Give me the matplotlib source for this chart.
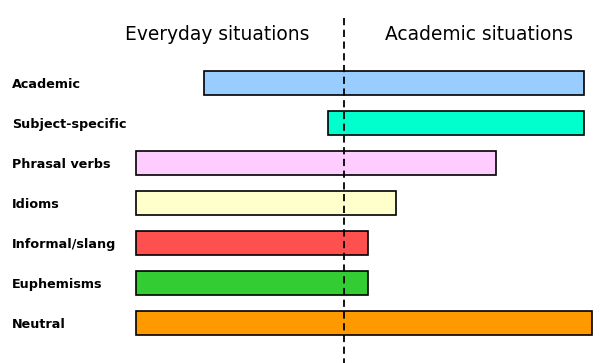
import matplotlib
matplotlib.use("Agg")
import matplotlib.pyplot as plt

categories = ["Academic", "Subject-specific", "Phrasal verbs", "Idioms",
              "Informal/slang", "Euphemisms", "Neutral"]
# span on an everyday (<0) ... academic (>0) scale, divider at 0
starts = [-140, -16, -208, -208, -208, -208, -208]
ends = [240, 240, 152, 52, 24, 24, 248]
colors = ["#99CCFF", "#00FFCC", "#FFCCFF", "#FFFFCC", "#FF5050", "#33CC33", "#FF9900"]
headings = ["Everyday situations", "Academic situations"]

fig = plt.figure(figsize=(6.05, 3.63), dpi=100)
ax = fig.add_axes([0, 0, 1, 1])
ax.set_xlim(-344, 261)
ax.set_ylim(7.0, -2.075)
ax.axis("off")

for i, (c, s, e, col) in enumerate(zip(categories, starts, ends, colors)):
    ax.barh(i, e - s, left=s, height=0.6, color=col, edgecolor="black", linewidth=1.2)
    ax.text(0.02, i + 0.03, c, transform=ax.get_yaxis_transform(), ha="left", va="center",
            fontsize=9.2, fontweight="bold", family="DejaVu Sans")

ax.plot([0, 0], [-1.625, 7.0], color="black", linestyle=(0, (4, 2.5)), linewidth=1.3)

ax.text(-127, -1.2, headings[0], ha="center", va="center", fontsize=13.4, family="DejaVu Sans")
ax.text(135, -1.2, headings[1], ha="center", va="center", fontsize=13.4, family="DejaVu Sans")

fig.savefig("out.png", dpi=100)
